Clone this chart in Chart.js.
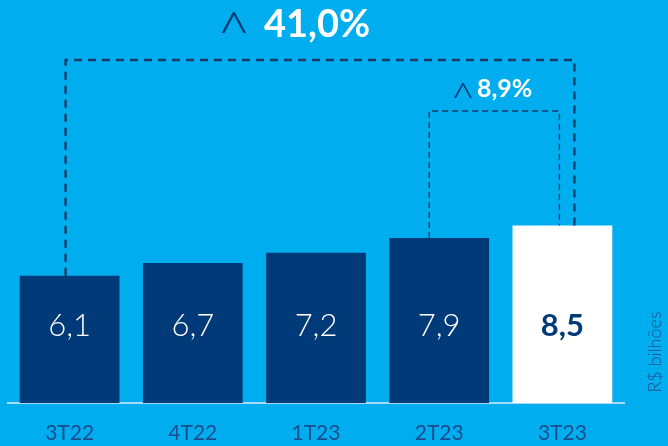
<!DOCTYPE html>
<html>
<head>
<meta charset="utf-8">
<script src="https://cdn.jsdelivr.net/npm/chart.js@4"></script>
<style>
  html, body { margin: 0; padding: 0; background: #00AEEF; }
  #wrap { width: 668px; height: 446px; }
</style>
</head>
<body>
<div id="wrap"><canvas id="chart" width="668" height="446"></canvas></div>
<script>
// data
const quarters = ['3T22', '4T22', '1T23', '2T23', '3T23'];
const values = [6.1, 6.7, 7.2, 7.9, 8.5];
const valueLabels = ['6,1', '6,7', '7,2', '7,9', '8,5'];
const growthLabels = ['41,0%', '8,9%'];
const growthFrom = [0, 3];
const growthTo = [4, 4];
const unitLabel = 'R$ bilhões';

const NAVY = '#003A78';
const DASH = '#1b3c68';
const FONT = 'Lato, "Open Sans", sans-serif';

// labels inside bars + brackets + unit text
const overlay = {
  id: 'overlay',
  afterDatasetsDraw(chart) {
    const ctx = chart.ctx;
    const x = chart.scales.x;
    const y = chart.scales.y;
    const bottom = chart.chartArea.bottom;

    // values inside the bars
    values.forEach((v, i) => {
      const last = i === values.length - 1;
      ctx.save();
      ctx.font = (last ? 'bold ' : '300 ') + '31px ' + FONT;
      ctx.fillStyle = last ? NAVY : '#ffffff';
      ctx.textAlign = 'center';
      ctx.textBaseline = 'middle';
      ctx.fillText(valueLabels[i], x.getPixelForValue(i), bottom - 77);
      ctx.restore();
    });

    // dashed brackets
    const brackets = [
      { dx1: -4, dx2: 12, top: 60, width: 2.4, dash: [8, 6] },
      { dx1: -10, dx2: -3, top: 111, width: 1.4, dash: [6, 4] }
    ];
    brackets.forEach((b, k) => {
      const i1 = growthFrom[k], i2 = growthTo[k];
      const x1 = x.getPixelForValue(i1) + b.dx1;
      const x2 = x.getPixelForValue(i2) + b.dx2;
      const y1 = y.getPixelForValue(values[i1]);
      const y2 = y.getPixelForValue(values[i2]);
      ctx.save();
      ctx.strokeStyle = DASH;
      ctx.lineWidth = b.width;
      ctx.setLineDash(b.dash);
      ctx.beginPath();
      ctx.moveTo(x1, y1);
      ctx.lineTo(x1, b.top);
      ctx.lineTo(x2, b.top);
      ctx.lineTo(x2, y2);
      ctx.stroke();
      ctx.restore();
    });

    // growth labels
    ctx.save();
    ctx.textBaseline = 'alphabetic';
    ctx.textAlign = 'center';
    ctx.fillStyle = NAVY;
    ctx.font = '300 60px ' + FONT;
    ctx.fillText('^', 234, 54);
    ctx.font = '300 44px ' + FONT;
    ctx.fillText('^', 463, 114);

    ctx.textAlign = 'left';
    ctx.fillStyle = '#ffffff';
    ctx.font = 'bold 38px ' + FONT;
    ctx.fillText(growthLabels[0], 264, 37);
    ctx.font = 'bold 25px ' + FONT;
    ctx.fillText(growthLabels[1], 477, 97);
    ctx.restore();

    // unit label
    ctx.save();
    ctx.translate(655, 352);
    ctx.rotate(-Math.PI / 2);
    ctx.fillStyle = '#1f4f8f';
    ctx.font = '300 18px ' + FONT;
    ctx.textAlign = 'center';
    ctx.textBaseline = 'middle';
    ctx.fillText(unitLabel, 0, 0);
    ctx.restore();
  }
};

const ctx = document.getElementById('chart').getContext('2d');

new Chart(ctx, {
  type: 'bar',
  data: {
    labels: quarters,
    datasets: [{
      data: values,
      backgroundColor: [NAVY, NAVY, NAVY, NAVY, '#ffffff'],
      borderWidth: 0,
      barPercentage: 0.81,
      categoryPercentage: 1
    }]
  },
  options: {
    responsive: false,
    animation: false,
    layout: { padding: { left: 8, right: 44, top: 0, bottom: 0 } },
    plugins: {
      legend: { display: false },
      tooltip: { enabled: false }
    },
    scales: {
      x: {
        grid: { display: false, drawTicks: false },
        border: { display: true, color: '#a8dcf6', width: 2 },
        ticks: {
          color: '#1a4c8e',
          font: { family: FONT, size: 21, weight: '400' },
          padding: 18
        },
        afterFit: (s) => { s.height = 43; }
      },
      y: {
        display: false,
        min: 0,
        max: 19.3
      }
    }
  },
  plugins: [overlay]
});
</script>
</body>
</html>
